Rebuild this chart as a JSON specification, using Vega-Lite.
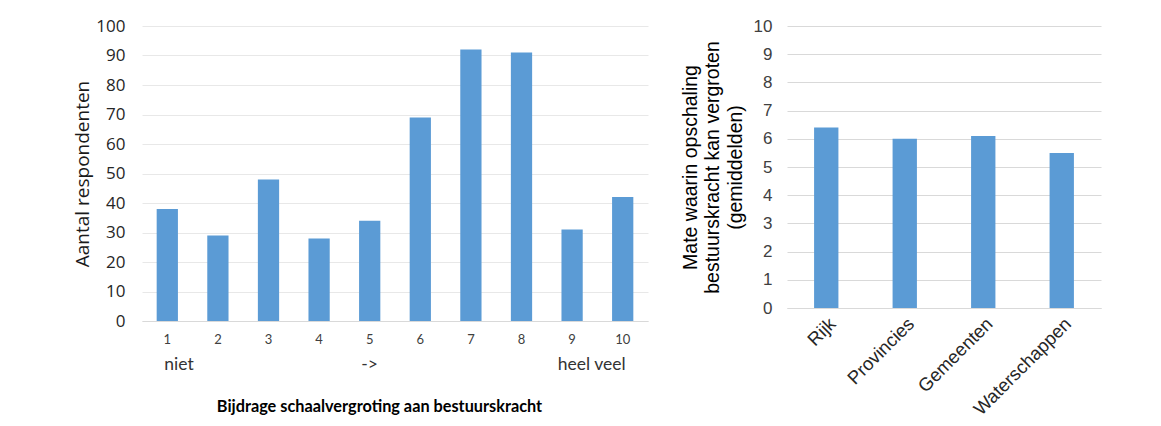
{
  "$schema": "https://vega.github.io/schema/vega-lite/v6.json",
  "padding": {"left": 73, "top": 17, "right": 5, "bottom": 5},
  "background": "white",
  "datasets": {
    "scores": [
      {"score": "1", "n": 38},
      {"score": "2", "n": 29},
      {"score": "3", "n": 48},
      {"score": "4", "n": 28},
      {"score": "5", "n": 34},
      {"score": "6", "n": 69},
      {"score": "7", "n": 92},
      {"score": "8", "n": 91},
      {"score": "9", "n": 31},
      {"score": "10", "n": 42}
    ],
    "notes": [
      {"score": "1", "label": "niet"},
      {"score": "5", "label": "->"},
      {"score": "10", "label": "heel veel"}
    ],
    "levels": [
      {"bestuurslaag": "Rijk", "gemiddelde": 6.4},
      {"bestuurslaag": "Provincies", "gemiddelde": 6.0},
      {"bestuurslaag": "Gemeenten", "gemiddelde": 6.1},
      {"bestuurslaag": "Waterschappen", "gemiddelde": 5.5}
    ]
  },
  "config": {"view": {"stroke": null}, "concat": {"spacing": 32}},
  "hconcat": [
    {
      "width": 506,
      "height": 295,
      "resolve": {"axis": {"x": "independent", "y": "independent"}},
      "layer": [
        {
          "data": {"name": "scores"},
          "mark": {"type": "bar", "color": "#5b9bd5"},
          "encoding": {
            "x": {
              "field": "score",
              "type": "ordinal",
              "sort": null,
              "scale": {"domain": ["1","2","3","4","5","6","7","8","9","10"], "paddingInner": 0.58, "paddingOuter": 0.29},
              "axis": {
                "title": "Bijdrage schaalvergroting aan bestuurskracht",
                "titleFont": "Lato",
                "titleFontWeight": "bold",
                "titleFontSize": 16.3,
                "titleColor": "#000000",
                "titlePadding": 52,
                "titleX": 237,
                "labelAngle": 0,
                "labelFont": "Lato",
                "labelFontSize": 13,
                "labelColor": "#404040",
                "labelPadding": 12,
                "ticks": false,
                "domainColor": "#d9d9d9",
                "grid": false
              }
            },
            "y": {
              "field": "n",
              "type": "quantitative",
              "scale": {"domain": [0, 100]},
              "axis": {
                "title": "Aantal respondenten",
                "titleFont": "Open Sans",
                "titleFontSize": 19,
                "titleFontWeight": "normal",
                "titleColor": "#1a1a1a",
                "titlePadding": 3,
                "values": [0,10,20,30,40,50,60,70,80,90,100],
                "labelFont": "Open Sans",
                "labelFontSize": 17,
                "labelColor": "#262626",
                "labelPadding": 17,
                "ticks": false,
                "domain": false,
                "gridColor": "#e8e8e8"
              }
            }
          }
        },
        {
          "data": {"name": "notes"},
          "transform": [{"filter": "datum.label == 'niet'"}],
          "mark": {"type": "text", "align": "left", "dx": -3, "font": "Lato", "fontSize": 17.5, "color": "#333333"},
          "encoding": {
            "x": {"field": "score", "type": "ordinal", "axis": null},
            "y": {"datum": -15, "axis": null},
            "text": {"field": "label"}
          }
        },
        {
          "data": {"name": "notes"},
          "transform": [{"filter": "datum.label == '->'"}],
          "mark": {"type": "text", "align": "center", "font": "Lato", "fontSize": 17.5, "color": "#333333"},
          "encoding": {
            "x": {"field": "score", "type": "ordinal", "axis": null},
            "y": {"datum": -15, "axis": null},
            "text": {"field": "label"}
          }
        },
        {
          "data": {"name": "notes"},
          "transform": [{"filter": "datum.label == 'heel veel'"}],
          "mark": {"type": "text", "align": "right", "dx": 3, "font": "Lato", "fontSize": 17.5, "color": "#333333"},
          "encoding": {
            "x": {"field": "score", "type": "ordinal", "axis": null},
            "y": {"datum": -15, "axis": null},
            "text": {"field": "label"}
          }
        }
      ]
    },
    {
      "width": 314,
      "height": 282,
      "data": {"name": "levels"},
      "mark": {"type": "bar", "color": "#5b9bd5"},
      "encoding": {
        "x": {
          "field": "bestuurslaag",
          "type": "nominal",
          "sort": null,
          "scale": {"paddingInner": 0.69, "paddingOuter": 0.345},
          "axis": {
            "title": null,
            "labelAngle": -45,
            "labelFont": "Liberation Sans",
            "labelFontSize": 18.5,
            "labelColor": "#262626",
            "labelPadding": 6,
            "ticks": false,
            "domainColor": "#d9d9d9",
            "grid": false
          }
        },
        "y": {
          "field": "gemiddelde",
          "type": "quantitative",
          "scale": {"domain": [0, 10]},
          "axis": {
            "title": ["Mate waarin opschaling", "bestuurskracht kan vergroten", "(gemiddelden)"],
            "titleFont": "Liberation Sans",
            "titleFontSize": 19.5,
            "titleFontWeight": "normal",
            "titleColor": "#000000",
            "titleLineHeight": 22.5,
            "titlePadding": 8,
            "values": [0,1,2,3,4,5,6,7,8,9,10],
            "labelFont": "Liberation Sans",
            "labelFontSize": 17,
            "labelColor": "#404040",
            "labelPadding": 15,
            "ticks": false,
            "domain": false,
            "gridColor": "#d9d9d9"
          }
        }
      }
    }
  ]
}
